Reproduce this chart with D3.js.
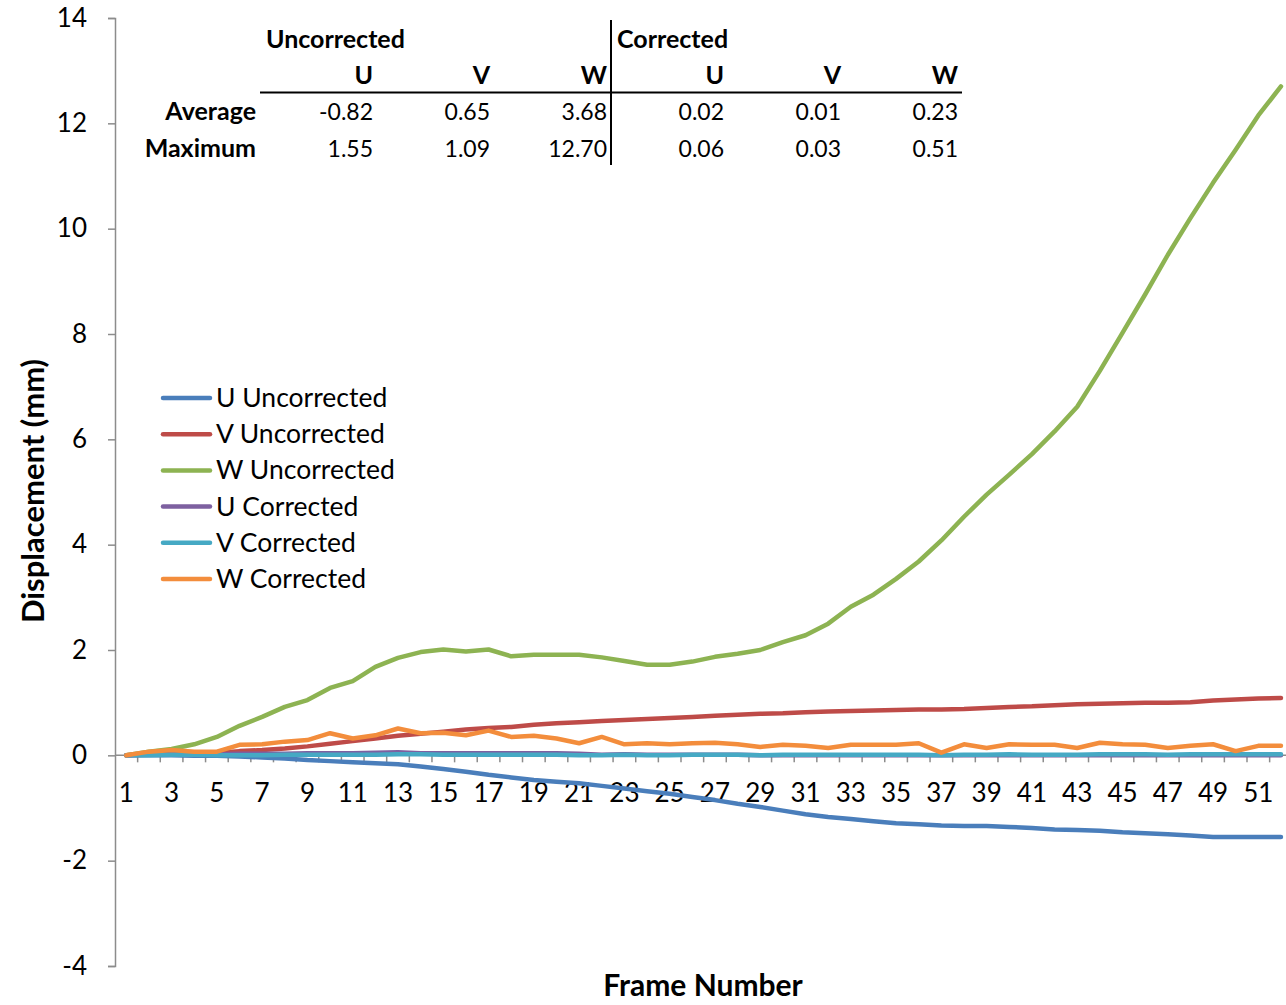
<!DOCTYPE html>
<html>
<head>
<meta charset="utf-8">
<script src="https://cdn.jsdelivr.net/npm/d3@7"></script>
<style>
  body { margin: 0; background: #fff; }
  text { font-family: Lato, "Open Sans", sans-serif; fill: #000; }
</style>
</head>
<body>
<script>
// frame numbers 1..52
var frames = [1,2,3,4,5,6,7,8,9,10,11,12,13,14,15,16,17,18,19,20,21,22,23,24,25,26,
              27,28,29,30,31,32,33,34,35,36,37,38,39,40,41,42,43,44,45,46,47,48,49,50,51,52];

// series (mm)
var uUncorrected = [0,0,0,-0.01,-0.01,-0.02,-0.04,-0.06,-0.09,-0.11,-0.13,-0.15,-0.17,-0.21,-0.26,-0.31,-0.37,-0.42,-0.47,-0.5,
                    -0.53,-0.58,-0.63,-0.68,-0.73,-0.79,-0.85,-0.92,-0.98,-1.05,-1.12,-1.17,-1.21,-1.25,-1.29,-1.31,-1.33,-1.34,-1.34,-1.36,
                    -1.38,-1.41,-1.42,-1.43,-1.46,-1.48,-1.5,-1.52,-1.55,-1.55,-1.55,-1.55];
var vUncorrected = [0,0.03,0.05,0.05,0.05,0.08,0.1,0.13,0.17,0.22,0.27,0.32,0.37,0.41,0.45,0.49,0.52,0.54,0.58,0.61,
                    0.63,0.65,0.67,0.69,0.71,0.73,0.75,0.77,0.79,0.8,0.82,0.83,0.84,0.85,0.86,0.87,0.87,0.88,0.9,0.92,
                    0.93,0.95,0.97,0.98,0.99,1.0,1.0,1.01,1.04,1.06,1.08,1.09];
var wUncorrected = [0,0.07,0.12,0.21,0.35,0.56,0.73,0.92,1.05,1.28,1.41,1.68,1.85,1.96,2.01,1.97,2.01,1.88,1.91,1.91,
                    1.91,1.86,1.79,1.72,1.72,1.78,1.87,1.93,2.0,2.15,2.28,2.5,2.82,3.05,3.35,3.68,4.08,4.53,4.95,5.33,
                    5.72,6.15,6.62,7.3,8.02,8.75,9.5,10.2,10.87,11.5,12.15,12.7];
var uCorrected = [0,0.01,0.02,0.02,0.02,0.03,0.03,0.03,0.04,0.04,0.04,0.05,0.06,0.04,0.04,0.04,0.04,0.04,0.04,0.04,
                  0.03,0.01,0.02,0.01,0.01,0.01,0.01,0.01,0.0,0.0,0.0,0.0,0.0,0.0,0.0,0.0,0.0,0.0,0.0,0.0,
                  0.0,0.0,0.0,0.0,0.0,0.0,0.0,0.0,0.0,0.0,0.0,0.0];
var vCorrected = [0,0,0.01,0.01,0.0,0.0,0.0,0.01,0.01,0.01,0.01,0.01,0.02,0.02,0.01,0.01,0.01,0.01,0.01,0.01,
                  0.0,0.0,0.01,0.0,0.0,0.01,0.01,0.01,0.0,0.01,0.01,0.01,0.01,0.01,0.01,0.01,0.0,0.01,0.01,0.02,
                  0.01,0.01,0.01,0.02,0.02,0.02,0.01,0.02,0.02,0.02,0.02,0.02];
var wCorrected = [0,0.07,0.1,0.07,0.07,0.2,0.21,0.26,0.29,0.42,0.32,0.38,0.51,0.42,0.43,0.38,0.47,0.35,0.37,0.32,
                  0.23,0.35,0.21,0.23,0.21,0.23,0.24,0.21,0.16,0.2,0.18,0.14,0.2,0.2,0.2,0.23,0.05,0.21,0.14,0.21,
                  0.2,0.2,0.14,0.24,0.21,0.2,0.14,0.18,0.21,0.08,0.18,0.18];

var seriesNames = ["U Uncorrected","V Uncorrected","W Uncorrected","U Corrected","V Corrected","W Corrected"];
var seriesColors = ["#4a7ebb","#be4b48","#8db352","#7d60a0","#46a9c4","#f38d3c"];
var seriesValues = [uUncorrected, vUncorrected, wUncorrected, uCorrected, vCorrected, wCorrected];

// summary table
var tableGroups = ["Uncorrected","Corrected"];
var tableCols = ["U","V","W","U","V","W"];
var tableRows = ["Average","Maximum"];
var tableAverage = ["-0.82","0.65","3.68","0.02","0.01","0.23"];
var tableMaximum = ["1.55","1.09","12.70","0.06","0.03","0.51"];

var yTicks = [-4,-2,0,2,4,6,8,10,12,14];

var width = 1286, height = 1005;
var svg = d3.select("body").append("svg")
    .attr("width", width)
    .attr("height", height);

// scales
var x = d3.scaleBand()
    .domain(frames)
    .range([115, 115 + 52 * 22.64])
    .padding(0);
var y = d3.scaleLinear()
    .domain([-4, 14])
    .range([966, 18]);
var bw = x.bandwidth();

// y axis
var yAxis = svg.append("g")
    .attr("transform", "translate(115,0)")
    .call(d3.axisLeft(y).tickValues(yTicks).tickSize(7).tickFormat(function(d){ return String(d); }));
yAxis.select(".domain").attr("stroke", "#8c8c8c").attr("stroke-width", 1.5);
yAxis.selectAll(".tick line").attr("stroke", "#8c8c8c").attr("stroke-width", 1.5);
yAxis.selectAll(".tick text")
    .attr("x", -28)
    .style("font-size", "26px");

// x axis at zero
var x0 = y(0);
svg.append("line")
    .attr("x1", 115).attr("x2", 115 + 52 * bw)
    .attr("y1", x0).attr("y2", x0)
    .attr("stroke", "#8c8c8c").attr("stroke-width", 1.5);

svg.append("g").selectAll("line")
    .data(frames.slice(1).concat([53]))
    .enter().append("line")
    .attr("x1", function(d){ return d === 53 ? 115 + 52 * bw : x(d); })
    .attr("x2", function(d){ return d === 53 ? 115 + 52 * bw : x(d); })
    .attr("y1", x0).attr("y2", x0 + 7)
    .attr("stroke", "#8c8c8c").attr("stroke-width", 1.5);

svg.append("g").selectAll("text")
    .data(frames.filter(function(d){ return d % 2 === 1; }))
    .enter().append("text")
    .attr("x", function(d){ return x(d) + bw / 2; })
    .attr("y", x0 + 47)
    .attr("text-anchor", "middle")
    .style("font-size", "26px")
    .text(function(d){ return d; });

// lines
var line = d3.line()
    .x(function(d, i){ return x(frames[i]) + bw / 2; })
    .y(function(d){ return y(d); });

svg.append("g").selectAll("path")
    .data(seriesValues)
    .enter().append("path")
    .attr("d", line)
    .attr("fill", "none")
    .attr("stroke", function(d, i){ return seriesColors[i]; })
    .attr("stroke-width", 4.5)
    .attr("stroke-linejoin", "round")
    .attr("stroke-linecap", "round");

// axis titles
svg.append("text")
    .attr("transform", "translate(44,491) rotate(-90)")
    .attr("text-anchor", "middle")
    .style("font-size", "31px")
    .style("font-weight", "bold")
    .text("Displacement (mm)");

svg.append("text")
    .attr("x", 703).attr("y", 996)
    .attr("text-anchor", "middle")
    .style("font-size", "30px")
    .style("font-weight", "bold")
    .text("Frame Number");

// legend
var legend = svg.append("g").selectAll("g")
    .data(seriesNames)
    .enter().append("g")
    .attr("transform", function(d, i){ return "translate(163," + (398 + i * 36.2) + ")"; });
legend.append("line")
    .attr("x1", 0).attr("x2", 47)
    .attr("stroke", function(d, i){ return seriesColors[i]; })
    .attr("stroke-width", 4.5)
    .attr("stroke-linecap", "round");
legend.append("text")
    .attr("x", 53).attr("y", 9)
    .style("font-size", "26.5px")
    .text(function(d){ return d; });

// summary table
var colRight = [373, 490, 607, 724, 841, 958];
var table = svg.append("g");
table.selectAll(".grp")
    .data(tableGroups)
    .enter().append("text")
    .attr("x", function(d, i){ return i === 0 ? 266 : 617; })
    .attr("y", 48)
    .style("font-size", "25px")
    .style("font-weight", "bold")
    .text(function(d){ return d; });
table.selectAll(".col")
    .data(tableCols)
    .enter().append("text")
    .attr("x", function(d, i){ return colRight[i]; })
    .attr("y", 84)
    .attr("text-anchor", "end")
    .style("font-size", "25px")
    .style("font-weight", "bold")
    .text(function(d){ return d; });
table.selectAll(".row")
    .data(tableRows)
    .enter().append("text")
    .attr("x", 256)
    .attr("y", function(d, i){ return 120 + i * 37; })
    .attr("text-anchor", "end")
    .style("font-size", "25px")
    .style("font-weight", "bold")
    .text(function(d){ return d; });
[tableAverage, tableMaximum].forEach(function(vals, r){
    table.append("g").selectAll("text")
        .data(vals)
        .enter().append("text")
        .attr("x", function(d, i){ return colRight[i]; })
        .attr("y", 120 + r * 37)
        .attr("text-anchor", "end")
        .style("font-size", "23px")
        .text(function(d){ return d; });
});
table.append("line")
    .attr("x1", 260).attr("x2", 962)
    .attr("y1", 92.5).attr("y2", 92.5)
    .attr("stroke", "#000").attr("stroke-width", 2);
table.append("line")
    .attr("x1", 611).attr("x2", 611)
    .attr("y1", 20).attr("y2", 165)
    .attr("stroke", "#000").attr("stroke-width", 2);
</script>
</body>
</html>
